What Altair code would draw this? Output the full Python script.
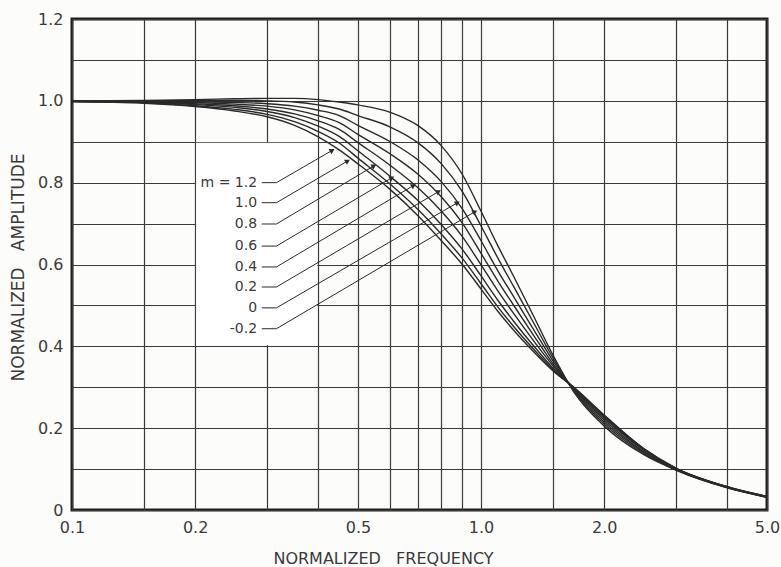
import altair as alt
import pandas as pd

# ---- data ----
freq = [0.1, 0.15, 0.2, 0.25, 0.3, 0.35, 0.4, 0.45, 0.5, 0.6, 0.7, 0.8, 0.9, 1.0,
        1.1, 1.2, 1.35, 1.5, 1.7, 2.0, 2.5, 3.0, 4.0, 5.0]

m_labels = ["1.2", "1.0", "0.8", "0.6", "0.4", "0.2", "0", "-0.2"]

amp_m1p2 = [.998, .994, .986, .975, .961, .940, .912, .880, .846, .783, .720, .658, .600, .540,
            .485, .440, .385, .340, .297, .232, .150, .102, .057, .033]
amp_m1p0 = [.998, .995, .988, .979, .967, .949, .925, .897, .860, .796, .735, .674, .615, .553,
            .496, .449, .391, .343, .296, .230, .149, .102, .057, .033]
amp_m0p8 = [.998, .996, .991, .984, .974, .959, .938, .913, .878, .815, .757, .697, .637, .572,
            .512, .462, .399, .346, .295, .227, .148, .101, .056, .033]
amp_m0p6 = [.999, .997, .993, .988, .980, .968, .951, .930, .898, .842, .788, .730, .668, .599,
            .535, .481, .411, .352, .293, .224, .146, .100, .056, .032]
amp_m0p4 = [.999, .998, .996, .992, .987, .978, .964, .947, .918, .870, .821, .765, .701, .627,
            .559, .501, .424, .357, .291, .220, .143, .100, .056, .032]
amp_m0p2 = [.999, .999, .998, .996, .993, .987, .977, .964, .940, .900, .856, .802, .736, .658,
            .584, .522, .438, .364, .288, .215, .141, .099, .055, .032]
amp_m0 = [1.0, 1.0, 1.001, 1.001, 1.0, .997, .990, .980, .964, .936, .898, .846, .778, .694,
          .615, .547, .454, .371, .286, .210, .138, .098, .055, .031]
amp_mneg0p2 = [1.0, 1.001, 1.003, 1.005, 1.006, 1.006, 1.003, .997, .990, .972, .940, .890, .820, .730,
               .645, .572, .470, .378, .283, .205, .135, .097, .054, .031]

series = [amp_m1p2, amp_m1p0, amp_m0p8, amp_m0p6, amp_m0p4, amp_m0p2, amp_m0, amp_mneg0p2]

# label annotation (data coordinates)
label_text = ["m = 1.2", "1.0", "0.8", "0.6", "0.4", "0.2", "0", "-0.2"]
label_y = [0.800, 0.751, 0.699, 0.645, 0.594, 0.545, 0.494, 0.443]
tip_f = [0.431, 0.470, 0.545, 0.603, 0.681, 0.784, 0.872, 0.962]
tip_v = [0.878, 0.852, 0.840, 0.811, 0.792, 0.777, 0.750, 0.728]

x_grid = [0.1, 0.15, 0.2, 0.3, 0.4, 0.5, 0.6, 0.7, 0.8, 0.9, 1.0, 1.5, 2.0, 3.0, 4.0, 5.0]
x_labels = [0.1, 0.2, 0.5, 1.0, 2.0, 5.0]
y_grid = [0, 0.1, 0.2, 0.3, 0.4, 0.5, 0.6, 0.7, 0.8, 0.9, 1.0, 1.1, 1.2]

# ---- tables ----
rows = []
for m, vals in zip(m_labels, series):
    for f, v in zip(freq, vals):
        rows.append({"f": f, "v": v, "m": m})
curves_df = pd.DataFrame(rows)

lab_df = pd.DataFrame({"text": label_text, "y": label_y,
                       "tx": tip_f, "ty": tip_v})
lab_df["xl"] = 0.2835
lab_df["xh0"] = 0.291
lab_df["xh1"] = 0.316

mask_df = pd.DataFrame({"x0": [0.2011], "x1": [0.3978], "y0": [0.4025], "y1": [0.8975]})

INK = "#2a2a2a"
FONT = "DejaVu Sans"

xscale = alt.Scale(type="log", domain=[0.1, 5.0], nice=False)
yscale = alt.Scale(domain=[0, 1.2], nice=False)

xaxis = alt.Axis(
    values=x_grid, grid=True, gridColor="#3a3a3a", gridWidth=1.2, gridOpacity=1,
    ticks=False, domain=False, labelOverlap=False, labelFlush=False,
    labelExpr="indexof([0.1,0.2,0.5,1,2,5], datum.value) >= 0 ? format(datum.value, '.1f') : ''",
    labelFont=FONT, labelFontSize=16, labelColor="#3a3a3a", labelPadding=9,
    title="NORMALIZED\u00a0\u00a0\u00a0FREQUENCY", titleFont=FONT, titleFontSize=16,
    titleFontWeight="normal", titleColor="#3a3a3a", titleX=311, titleY=53,
    titleBaseline="alphabetic", titleAlign="center",
)
yaxis = alt.Axis(
    values=y_grid, grid=True, gridColor="#3a3a3a", gridWidth=1.2, gridOpacity=1,
    ticks=False, domain=False, labelOverlap=False, labelFlush=False,
    labelExpr="round(datum.value*10) % 2 == 0 ? (datum.value == 0 ? '0' : format(datum.value, '.1f')) : ''",
    labelFont=FONT, labelFontSize=16, labelColor="#3a3a3a", labelPadding=9,
    title="NORMALIZED\u00a0\u00a0\u00a0AMPLITUDE", titleFont=FONT, titleFontSize=17,
    titleFontWeight="normal", titleColor="#3a3a3a", titleX=-45, titleY=248,
    titleAngle=270, titleBaseline="bottom", titleAlign="center",
)

mask = alt.Chart(mask_df).mark_rect(color="white", opacity=1).encode(
    x=alt.X("x0:Q", scale=xscale, axis=xaxis),
    x2="x1:Q",
    y=alt.Y("y0:Q", scale=yscale, axis=yaxis),
    y2="y1:Q",
)

curves = alt.Chart(curves_df).mark_line(
    interpolate="monotone", color=INK, strokeWidth=1.4
).encode(
    x=alt.X("f:Q", scale=xscale, axis=xaxis),
    y=alt.Y("v:Q", scale=yscale, axis=yaxis),
    detail="m:N",
)

lead_h = alt.Chart(lab_df).mark_rule(color=INK, strokeWidth=1).encode(
    x=alt.X("xh0:Q", scale=xscale, axis=xaxis), x2="xh1:Q",
    y=alt.Y("y:Q", scale=yscale, axis=yaxis), y2="y:Q",
)
lead_d = alt.Chart(lab_df).mark_rule(color=INK, strokeWidth=1).encode(
    x=alt.X("xh1:Q", scale=xscale, axis=xaxis), x2="tx:Q",
    y=alt.Y("y:Q", scale=yscale, axis=yaxis), y2="ty:Q",
)
arrows = alt.Chart(lab_df).mark_point(
    shape="triangle", angle=60, size=35, filled=True, color=INK, opacity=1
).encode(
    x=alt.X("tx:Q", scale=xscale, axis=xaxis),
    y=alt.Y("ty:Q", scale=yscale, axis=yaxis),
)
labels = alt.Chart(lab_df).mark_text(
    align="right", baseline="middle", font=FONT, fontSize=14, color="#3a3a3a"
).encode(
    x=alt.X("xl:Q", scale=xscale, axis=xaxis),
    y=alt.Y("y:Q", scale=yscale, axis=yaxis),
    text="text:N",
)

chart = alt.layer(mask, curves, lead_h, lead_d, arrows, labels).properties(
    width=695, height=491,
    padding={"left": 72, "top": 19, "right": 14, "bottom": 57},
    autosize=alt.AutoSizeParams(type="none"),
    background="#fcfcfa",
).configure_view(
    stroke="#1e1e1e", strokeWidth=3
)

chart.save("out.html", embed_options={"renderer": "svg", "actions": False})
